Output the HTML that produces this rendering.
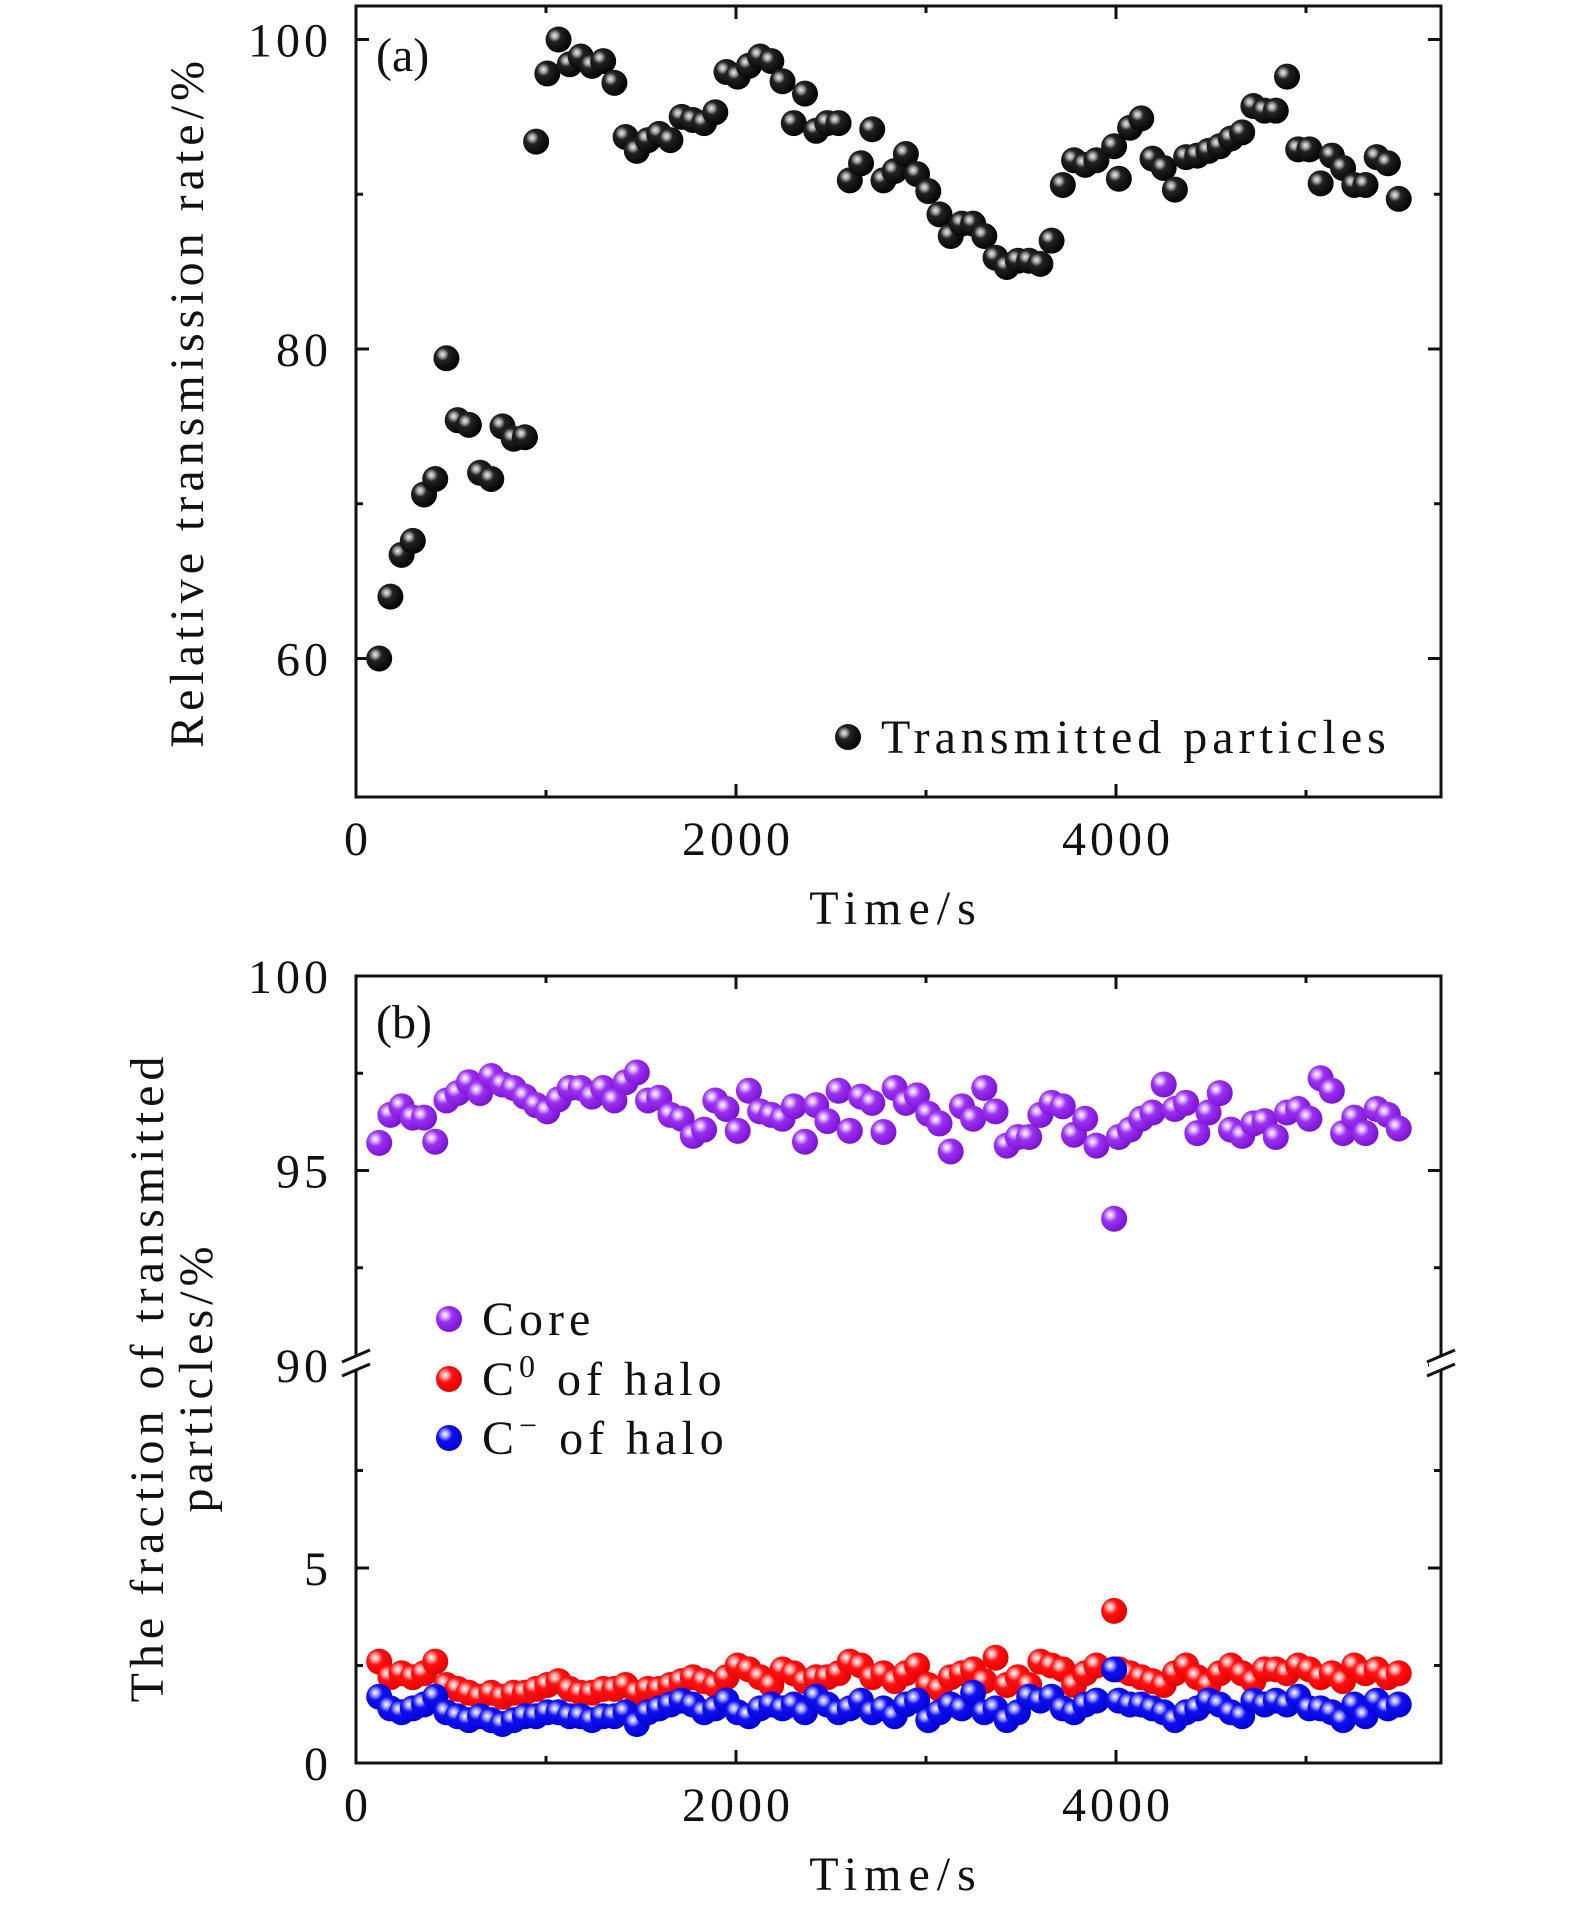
<!DOCTYPE html>
<html><head><meta charset="utf-8">
<style>
html,body{margin:0;padding:0;background:#fff;}
svg{display:block;font-family:"Liberation Serif","DejaVu Serif",serif;}
text{fill:#111;}
</style></head>
<body>
<svg id="chart" width="1575" height="1909" viewBox="0 0 1575 1909" xmlns="http://www.w3.org/2000/svg">
<defs>
<radialGradient id="gBlack" cx="0.35" cy="0.35" r="0.7"><stop offset="0" stop-color="#eee"/><stop offset="0.18" stop-color="#999"/><stop offset="0.35" stop-color="#222"/><stop offset="1" stop-color="#000"/></radialGradient>
<radialGradient id="gCore" cx="0.35" cy="0.35" r="0.7"><stop offset="0" stop-color="#fff"/><stop offset="0.18" stop-color="#d9a8ff"/><stop offset="0.4" stop-color="#9a30f0"/><stop offset="1" stop-color="#7a10d0"/></radialGradient>
<radialGradient id="gRed" cx="0.35" cy="0.35" r="0.7"><stop offset="0" stop-color="#fff"/><stop offset="0.18" stop-color="#ffa0a0"/><stop offset="0.4" stop-color="#ff1010"/><stop offset="1" stop-color="#e00000"/></radialGradient>
<radialGradient id="gBlue" cx="0.35" cy="0.35" r="0.7"><stop offset="0" stop-color="#fff"/><stop offset="0.18" stop-color="#a0a0ff"/><stop offset="0.4" stop-color="#1010f0"/><stop offset="1" stop-color="#0000d0"/></radialGradient>
</defs>
<g id="axesA"></g>
<g id="axesB"></g>
</svg>
<script>
const times = [122,181,240,299,358,417,476,535,594,653,712,771,830,889,948,1007,1066,1125,1183,1242,1301,1360,1419,1478,1537,1596,1655,1714,1773,1832,1891,1950,2009,2068,2127,2186,2245,2304,2363,2422,2481,2540,2599,2658,2717,2776,2835,2894,2953,3012,3071,3130,3189,3248,3307,3366,3425,3484,3543,3602,3661,3720,3779,3838,3897,3990,4015,4074,4133,4192,4251,4310,4369,4428,4487,4546,4605,4664,4723,4782,4841,4900,4959,5018,5077,5136,5195,5254,5313,5372,5431,5488];
const transRate = [60.0,64.0,66.7,67.6,70.6,71.6,79.4,75.4,75.1,72.0,71.6,75.0,74.2,74.3,93.4,97.8,100,98.4,98.9,98.3,98.6,97.2,93.7,92.8,93.5,93.9,93.5,95.0,94.8,94.6,95.3,97.9,97.6,98.3,98.9,98.6,97.3,94.6,96.5,94.1,94.6,94.6,90.9,92.0,94.2,90.9,91.5,92.6,91.3,90.2,88.7,87.3,88.1,88.1,87.3,85.9,85.3,85.7,85.7,85.5,87.0,90.6,92.2,91.9,92.2,93.1,91.0,94.3,94.9,92.3,91.7,90.3,92.4,92.5,92.8,93.1,93.6,94.0,95.7,95.4,95.4,97.6,92.9,92.9,90.7,92.5,91.7,90.6,90.6,92.4,92.0,89.7];
const core = [95.71,96.43,96.65,96.36,96.36,95.74,96.80,96.99,97.27,96.99,97.43,97.21,97.12,96.90,96.68,96.52,96.83,97.12,97.12,96.90,97.12,96.80,97.27,97.52,96.80,96.87,96.43,96.33,95.89,96.05,96.80,96.58,96.02,97.05,96.52,96.43,96.33,96.65,95.74,96.68,96.27,97.05,96.02,96.90,96.74,95.99,97.12,96.74,96.93,96.46,96.21,95.49,96.65,96.33,97.12,96.52,95.64,95.86,95.86,96.43,96.74,96.65,95.92,96.33,95.64,93.76,95.86,96.05,96.33,96.49,97.21,96.58,96.74,95.96,96.49,96.99,96.05,95.89,96.21,96.27,95.86,96.49,96.58,96.33,97.37,97.05,95.96,96.36,95.96,96.58,96.43,96.08];
const c0 = [2.6,2.2,2.3,2.2,2.3,2.6,2.0,1.9,1.8,1.7,1.8,1.7,1.8,1.8,1.9,2.0,2.1,1.9,1.8,1.8,1.9,1.9,2.0,1.8,1.9,1.9,2.0,2.1,2.2,2.1,2.0,2.2,2.5,2.4,2.2,2.0,2.4,2.3,2.1,2.2,2.2,2.3,2.6,2.5,2.2,2.3,2.1,2.3,2.5,2.0,1.9,2.2,2.3,2.4,2.1,2.7,2.0,2.2,2.0,2.6,2.5,2.4,2.0,2.3,2.5,3.9,2.4,2.3,2.2,2.1,2.0,2.3,2.5,2.2,2.0,2.3,2.5,2.3,2.1,2.4,2.4,2.3,2.5,2.4,2.2,2.3,2.1,2.5,2.3,2.4,2.2,2.3];
const cMinus = [1.7,1.4,1.3,1.4,1.5,1.7,1.3,1.2,1.1,1.2,1.1,1.0,1.1,1.2,1.2,1.3,1.3,1.2,1.2,1.1,1.2,1.2,1.3,1.0,1.3,1.4,1.5,1.6,1.5,1.3,1.4,1.6,1.3,1.2,1.4,1.5,1.4,1.5,1.3,1.7,1.5,1.3,1.4,1.6,1.3,1.4,1.2,1.5,1.6,1.1,1.3,1.5,1.4,1.8,1.3,1.4,1.1,1.3,1.7,1.6,1.7,1.4,1.3,1.5,1.6,2.4,1.6,1.5,1.5,1.4,1.3,1.1,1.3,1.4,1.6,1.5,1.3,1.2,1.6,1.5,1.6,1.5,1.7,1.4,1.4,1.3,1.1,1.5,1.2,1.6,1.4,1.5];
const xTicks = [0,2000,4000];
const xMinor = [1000,3000,5000];
const yTicksA = [60,80,100];
const yMinorA = [70,90];
const yTicksB = [0,5,90,95,100];
const yMinorB = [2.5,7.5,92.5,97.5];

const NS = "http://www.w3.org/2000/svg";
function mk(parent, tag, attrs, txt){
  const e = document.createElementNS(NS, tag);
  for (const k in attrs) e.setAttribute(k, attrs[k]);
  if (txt !== undefined) e.textContent = txt;
  parent.appendChild(e);
  return e;
}
const L = 356, R = 1441;
const xScale = t => L + t * (736 - L) / 2000;
const yA = v => 349 - (v - 80) * (309.5 / 20);
const yB = v => v >= 50 ? 1365 - (v - 90) * 38.9 : 1763 - v * 39.0;

const A = document.getElementById('axesA');
const B = document.getElementById('axesB');
const FS = 48;
const LS = 5;

function frame(g, top, bottom){
  const f = mk(g, 'rect', {x:L, y:top, width:R-L, height:bottom-top, fill:'none', stroke:'#111', 'stroke-width':3});
  
  
  xTicks.forEach(t => {
    const x = xScale(t);
    mk(g, 'line', {x1:x, x2:x, y1:bottom, y2:bottom-13, stroke:'#111', 'stroke-width':3});
    mk(g, 'line', {x1:x, x2:x, y1:top, y2:top+13, stroke:'#111', 'stroke-width':3});
    const lb = mk(g, 'text', {x:x+2, y:bottom+58, 'font-size':FS, 'text-anchor':'middle', 'letter-spacing':4}, String(t));
    
    
  });
  xMinor.forEach(t => {
    const x = xScale(t);
    mk(g, 'line', {x1:x, x2:x, y1:bottom, y2:bottom-7, stroke:'#111', 'stroke-width':3});
    mk(g, 'line', {x1:x, x2:x, y1:top, y2:top+7, stroke:'#111', 'stroke-width':3});
  });
  const xt = mk(g, 'text', {x:896, y:bottom+127, 'font-size':FS, 'text-anchor':'middle', 'letter-spacing':7}, 'Time/s');
  
  
}
function sphere(g, cx, cy, fill, name){
  if (!isFinite(cx) || !isFinite(cy)) return;
  const c = mk(g, 'circle', {cx:cx, cy:cy, r:13, fill:fill});
  
  
}
function yTick(g, y, major, label){
  const len = major ? 13 : 7;
  mk(g, 'line', {x1:L, x2:L+len, y1:y, y2:y, stroke:'#111', 'stroke-width':3});
  mk(g, 'line', {x1:R, x2:R-len, y1:y, y2:y, stroke:'#111', 'stroke-width':3});
  if (label !== undefined){
    const t = mk(g, 'text', {x:332, y:y+17, 'font-size':FS, 'text-anchor':'end', 'letter-spacing':4}, label);
    
    
  }
}
function plotSeries(g, vals, scale, fill, name){
  const n = Math.min(times.length, vals.length);
  for (let i = 0; i < n; i++) sphere(g, xScale(times[i]), scale(vals[i]), fill, name);
}

// Panel A
frame(A, 6, 797);
yTicksA.forEach(v => yTick(A, yA(v), true, String(v)));
yMinorA.forEach(v => yTick(A, yA(v), false));
plotSeries(A, transRate, yA, 'url(#gBlack)', 'transmitted-point');
let ta = mk(A, 'text', {x:376, y:71, 'font-size':FS}, '(a)');


let yta = mk(A, 'text', {x:0, y:0, 'font-size':FS, 'text-anchor':'middle', 'letter-spacing':LS, transform:'translate(203,402) rotate(-90)'}, 'Relative transmission rate/%');


sphere(A, 848, 737, 'url(#gBlack)', 'legend-marker-transmitted');
let la = mk(A, 'text', {x:881, y:753, 'font-size':FS, 'letter-spacing':LS}, 'Transmitted particles');



// Panel B
frame(B, 976, 1763);
yTicksB.forEach(v => yTick(B, yB(v), true, String(v)));
yMinorB.forEach(v => yTick(B, yB(v), false));
[L, R].forEach(x => {
  mk(B, 'rect', {x:x-12, y:1356, width:24, height:14, fill:'#fff'});
  mk(B, 'line', {x1:x-14, y1:1362, x2:x+14, y2:1350, stroke:'#111', 'stroke-width':3});
  mk(B, 'line', {x1:x-14, y1:1376, x2:x+14, y2:1364, stroke:'#111', 'stroke-width':3});
});
plotSeries(B, core, yB, 'url(#gCore)', 'core-point');
plotSeries(B, c0, yB, 'url(#gRed)', 'c0-point');
plotSeries(B, cMinus, yB, 'url(#gBlue)', 'cminus-point');
let tb = mk(B, 'text', {x:376, y:1038, 'font-size':FS}, '(b)');


let yb1 = mk(B, 'text', {x:0, y:0, 'font-size':FS, 'text-anchor':'middle', 'letter-spacing':LS, transform:'translate(163,1377) rotate(-90)'}, 'The fraction of transmitted');


let yb2 = mk(B, 'text', {x:0, y:0, 'font-size':FS, 'text-anchor':'middle', 'letter-spacing':LS, transform:'translate(212,1377) rotate(-90)'}, 'particles/%');


sphere(B, 449, 1319, 'url(#gCore)', 'legend-marker-core');
let l1 = mk(B, 'text', {x:482, y:1335, 'font-size':FS, 'letter-spacing':LS}, 'Core');


sphere(B, 449, 1379, 'url(#gRed)', 'legend-marker-c0');
let l2 = mk(B, 'text', {x:482, y:1395, 'font-size':FS, 'letter-spacing':LS});


l2.innerHTML = 'C<tspan dy="-18" font-size="32">0</tspan><tspan dy="18"> of halo</tspan>';
sphere(B, 449, 1438, 'url(#gBlue)', 'legend-marker-cminus');
let l3 = mk(B, 'text', {x:482, y:1454, 'font-size':FS, 'letter-spacing':LS});


l3.innerHTML = 'C<tspan dy="-18" font-size="32">−</tspan><tspan dy="18"> of halo</tspan>';
</script>
</body></html>
